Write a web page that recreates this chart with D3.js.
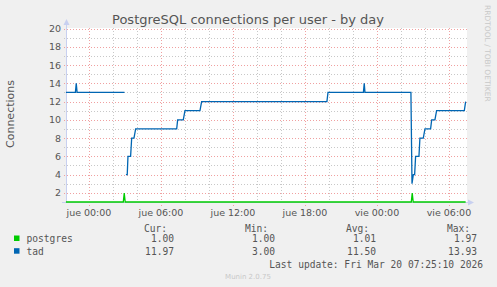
<!DOCTYPE html>
<html>
<head>
<meta charset="utf-8">
<script src="https://cdn.jsdelivr.net/npm/d3@7"></script>
<style>
  body { margin: 0; background: #f0f0f0; }
  svg { display: block; }
</style>
</head>
<body>
<svg width="497" height="287"></svg>
<script>
// hours relative to jue 00:00
const tadHours  = [-1.92, -1.13, -1.06, -0.99, 2.96, 3.0, 3.08, 3.19, 3.25, 3.47, 3.56, 3.75, 3.89, 7.31, 7.39, 7.86, 8.0, 9.25, 9.39, 19.83, 19.92, 22.87, 22.94, 23.0, 26.83, 26.92, 27.03, 27.14, 27.22, 27.5, 27.58, 27.86, 28.0, 28.47, 28.56, 28.83, 28.97, 31.28, 31.39];
const tadValues = [13, 13, 14, 13, 13, null, 4, 4, 6, 6, 8, 8, 9, 9, 10, 10, 11, 11, 12, 12, 13, 13, 14, 13, 13, 3, 4, 4, 6, 6, 8, 8, 9, 9, 10, 10, 11, 11, 12];
const pgHours  = [-1.92, 2.86, 2.94, 3.02, 26.86, 26.94, 27.02, 31.39];
const pgValues = [1, 1, 1.97, 1, 1, 1.97, 1, 1];

const xTicks = [0, 6, 12, 18, 24, 30];
const xTickLabels = ["jue 00:00", "jue 06:00", "jue 12:00", "jue 18:00", "vie 00:00", "vie 06:00"];
const yTicks = [2, 4, 6, 8, 10, 12, 14, 16, 18, 20];

const seriesNames = ["postgres", "tad"];
const seriesColors = ["#00cc00", "#0066b3"];
const curVals = ["1.00", "11.97"];
const minVals = ["1.00", "3.00"];
const avgVals = ["1.01", "11.50"];
const maxVals = ["1.97", "13.93"];

const svg = d3.select("svg");
const x = d3.scaleLinear().domain([-1.914, 31.42]).range([66, 466]);
const y = d3.scaleLinear().domain([1, 20]).range([202, 28.5]);

// canvas
svg.append("rect").attr("x", 66).attr("y", 28).attr("width", 401).attr("height", 174).attr("fill", "#fff");

// minor grid
const grid = svg.append("g");
d3.range(2, 21, 1).filter(v => v % 2 !== 0).forEach(v => {
  grid.append("line").attr("x1", 64).attr("x2", 467).attr("y1", Math.round(y(v)) + 0.5).attr("y2", Math.round(y(v)) + 0.5)
    .attr("stroke", "#c8c8c8").attr("stroke-dasharray", "1,2");
});
d3.range(2, 32, 2).filter(h => h % 6 !== 0).forEach(h => {
  grid.append("line").attr("x1", Math.round(x(h)) + 0.5).attr("x2", Math.round(x(h)) + 0.5).attr("y1", 28).attr("y2", 202)
    .attr("stroke", "#c8c8c8").attr("stroke-dasharray", "1,2");
});
// major grid
yTicks.forEach(v => {
  grid.append("line").attr("x1", 64).attr("x2", 467).attr("y1", Math.round(y(v)) + 0.5).attr("y2", Math.round(y(v)) + 0.5)
    .attr("stroke", "#f0a0a0").attr("stroke-dasharray", "1,2");
});
xTicks.forEach(h => {
  grid.append("line").attr("x1", Math.round(x(h)) + 0.5).attr("x2", Math.round(x(h)) + 0.5).attr("y1", 28).attr("y2", 206)
    .attr("stroke", "#f0a0a0").attr("stroke-dasharray", "1,2");
});

// axes
const axisCol = "#c8d0f0";
svg.append("line").attr("x1", 66.5).attr("x2", 66.5).attr("y1", 202).attr("y2", 24).attr("stroke", axisCol);
svg.append("path").attr("d", "M63.5,25 L66.5,19 L69.5,25 Z").attr("fill", axisCol);
svg.append("line").attr("x1", 62).attr("x2", 469).attr("y1", 202.5).attr("y2", 202.5).attr("stroke", axisCol);
svg.append("path").attr("d", "M468,199.5 L474,202.5 L468,205.5 Z").attr("fill", axisCol);

// tick labels
svg.append("g").selectAll("text").data(yTicks).enter().append("text")
  .attr("x", 61).attr("y", d => y(d) + 3.5)
  .attr("text-anchor", "end")
  .style("font", "9.5px 'DejaVu Sans'").attr("fill", "#555")
  .text(d => d);
svg.append("g").selectAll("text").data(xTicks).enter().append("text")
  .attr("x", d => x(d)).attr("y", 215.5)
  .attr("text-anchor", "middle")
  .style("font", "9.5px 'DejaVu Sans'").attr("fill", "#555")
  .text((d, i) => xTickLabels[i]);

// lines
const tad = tadHours.map((h, i) => ({h: h, v: tadValues[i]}));
const pg = pgHours.map((h, i) => ({h: h, v: pgValues[i]}));
const line = d3.line().defined(d => d.v !== null).x(d => x(d.h)).y(d => y(d.v));
svg.append("path").datum(pg).attr("d", line).attr("fill", "none").attr("stroke", seriesColors[0]).attr("stroke-width", 1.3);
svg.append("path").datum(tad).attr("d", line).attr("fill", "none").attr("stroke", seriesColors[1]).attr("stroke-width", 1.3);

// title
svg.append("text").attr("x", 248).attr("y", 23.5).attr("text-anchor", "middle")
  .style("font", "13px 'DejaVu Sans'").attr("fill", "#555")
  .text("PostgreSQL connections per user - by day");
svg.append("text").attr("transform", "translate(14,114) rotate(-90)").attr("text-anchor", "middle")
  .style("font", "11px 'DejaVu Sans'").attr("fill", "#555")
  .text("Connections");
svg.append("text").attr("transform", "translate(485,5) rotate(90)")
  .style("font", "7.5px 'DejaVu Sans'").attr("fill", "#c8c8c8")
  .text("RRDTOOL / TOBI OETIKER");

// legend
const mono = "9.6px 'DejaVu Sans Mono'";
const lg = svg.append("g").style("font", mono).attr("fill", "#555");
const colX = [167, 268, 369, 470];
["Cur:", "Min:", "Avg:", "Max:"].forEach((t, i) => {
  lg.append("text").attr("x", colX[i]).attr("y", 232).attr("text-anchor", "end").text(t);
});
seriesNames.forEach((name, i) => {
  const ry = 242 + i * 12.7;
  svg.append("rect").attr("x", 14).attr("y", ry - 6.5).attr("width", 5.5).attr("height", 5.5).attr("fill", seriesColors[i]);
  lg.append("text").attr("x", 26.5).attr("y", ry).text(name);
  [curVals, minVals, avgVals, maxVals].forEach((arr, j) => {
    lg.append("text").attr("x", colX[j] + 7).attr("y", ry).attr("text-anchor", "end").text(arr[i]);
  });
});
lg.append("text").attr("x", 483).attr("y", 267.5).attr("text-anchor", "end").text("Last update: Fri Mar 20 07:25:10 2026");
svg.append("text").attr("x", 248).attr("y", 279).attr("text-anchor", "middle")
  .style("font", "7px 'DejaVu Sans'").attr("fill", "#c8c8c8")
  .text("Munin 2.0.75");
</script>
</body>
</html>
